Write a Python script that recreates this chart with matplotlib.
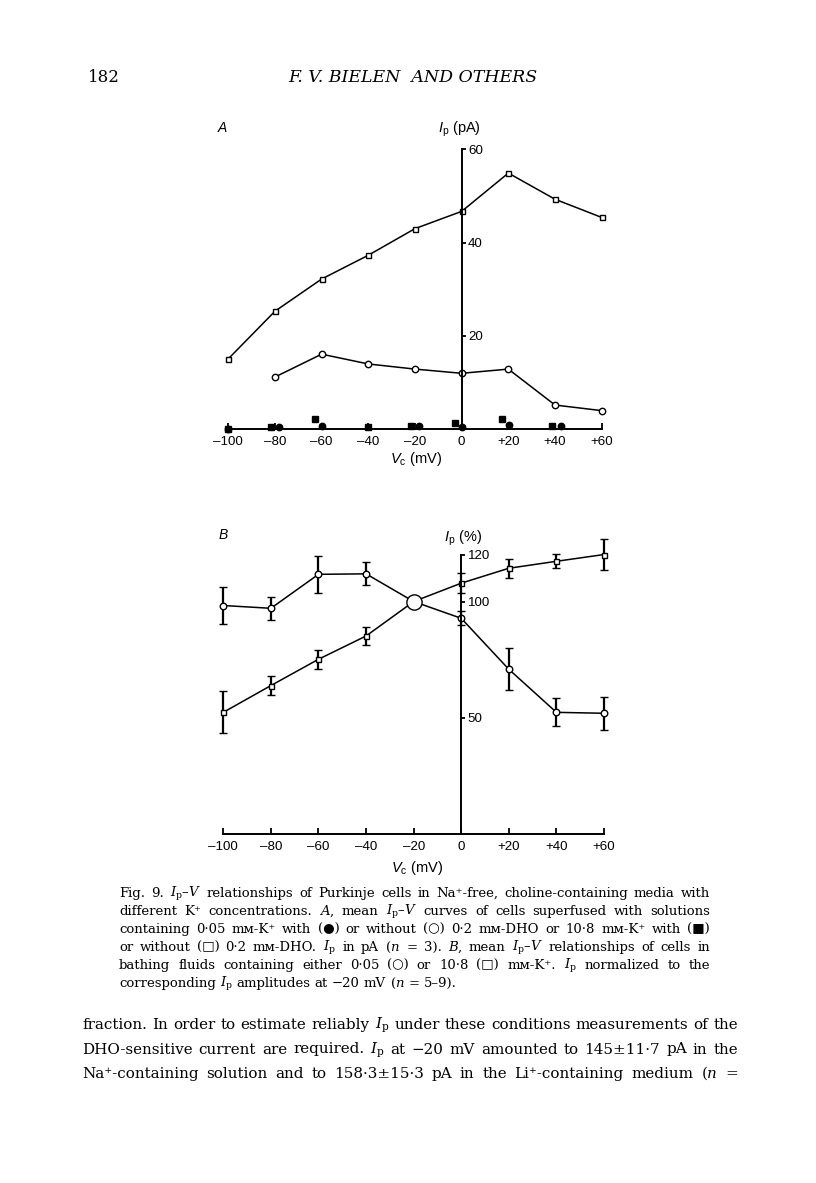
import matplotlib.pyplot as plt

plt.rcParams['font.family'] = ['Liberation Sans', 'DejaVu Sans']
plt.rcParams['mathtext.fontset'] = 'custom'
plt.rcParams['mathtext.rm'] = 'Liberation Sans'
plt.rcParams['mathtext.it'] = 'Liberation Sans:italic'

W, H = 816, 1183

volt = [-100, -80, -60, -40, -20, 0, 20, 40, 60]
volt_labels = ['\u2013100', '\u201380', '\u201360', '\u201340', '\u201320', '0', '+20', '+40', '+60']

# panel A: I_p (pA)
a_sq_open = [15.1, 25.3, 32.2, 37.3, 43.0, 46.7, 54.9, 49.3, 45.4]      # 10.8 mM-K+, no DHO
a_circ_open_v = [-80, -60, -40, -20, 0, 20, 40, 60]
a_circ_open = [11.2, 16.1, 14.0, 12.9, 12.0, 12.9, 5.2, 4.0]            # 0.05 mM-K+, no DHO
# filled symbols are drawn a little apart along V in the original
a_sq_fill_v = [-100, -81.5, -63, -40, -21.6, -2.8, 17.3, 38.9]
a_sq_fill = [0.1, 0.55, 2.2, 0.4, 0.8, 1.3, 2.1, 0.75]                 # 10.8 mM-K+, DHO
a_circ_fill_v = [-100, -78.2, -59.8, -18.1, 0, 20.4, 42.5]
a_circ_fill = [0.1, 0.55, 0.8, 0.75, 0.4, 0.9, 0.8]                    # 0.05 mM-K+, DHO

# panel B: I_p (%) normalised to -20 mV
b_circ = [98.3, 97.1, 111.7, 111.9, 100, 92.8, 70.9, 52.4, 52.0]
b_circ_err = [8, 5, 8, 5, 0, 3, 9, 6, 7]
b_sq = [52.4, 63.9, 75.2, 85.2, 100, 107.9, 114.3, 117.3, 120.2]
b_sq_err = [9, 4, 4, 4, 0, 4.3, 4, 3, 6.5]

fig = plt.figure(figsize=(W / 100, H / 100), dpi=100)


def fx(x):
    return x / W


def fy(y):
    return 1 - y / H


def style_axes(ax, ymax, yticks):
    ax.patch.set_visible(False)
    for s in ['left', 'top']:
        ax.spines[s].set_visible(False)
    ax.spines['right'].set_position(('data', 0))
    ax.spines['right'].set_bounds(0, ymax)
    ax.spines['bottom'].set_position(('data', 0))
    for s in ['right', 'bottom']:
        ax.spines[s].set_linewidth(1.4)
    ax.yaxis.tick_right()
    ax.set_xlim(-100, 60)
    ax.set_ylim(0, ymax)
    ax.set_xticks(volt)
    ax.set_xticklabels(volt_labels)
    ax.set_yticks(yticks)
    ax.tick_params(axis='x', direction='in', length=4, width=1.3, pad=4.5, labelsize=9.6)
    ax.tick_params(axis='y', direction='out', length=3, width=1.3, pad=1.5, labelsize=9.6)


def no_clip(artists):
    for a in artists:
        if isinstance(a, (list, tuple)):
            no_clip(a)
        else:
            a.set_clip_on(False)


# ---- panel A
axA = fig.add_axes([fx(228.3), fy(429.3), 373.4 / W, 280 / H])
style_axes(axA, 60, [20, 40, 60])
no_clip(axA.plot(volt, a_sq_open, '-s', color='k', lw=1.1, ms=3.6, mfc='white', mew=1))
no_clip(axA.plot(a_circ_open_v, a_circ_open, '-o', color='k', lw=1.1, ms=4.6, mfc='white', mew=1))
no_clip(axA.plot(a_sq_fill_v, a_sq_fill, 's', color='k', ms=4.3, zorder=4))
no_clip(axA.plot(a_circ_fill_v, a_circ_fill, 'o', color='k', ms=4.6, zorder=4))

fig.text(fx(218), fy(128), 'A', fontsize=10, style='italic', va='center')
fig.text(fx(459), fy(129), r'$I_\mathrm{p}$ (pA)', fontsize=10.5, ha='center', va='center')
fig.text(fx(416), fy(459), r'$V_\mathrm{c}$ (mV)', fontsize=10.5, ha='center', va='center')

# ---- panel B
axB = fig.add_axes([fx(223.3), fy(834.3), 380.7 / W, 279.3 / H])
style_axes(axB, 120, [50, 100, 120])
eb = axB.errorbar(volt, b_circ, yerr=b_circ_err, fmt='-o', color='k', lw=1.1, ms=4.7, mfc='white',
                  mew=1, elinewidth=1.6, capsize=2.6, capthick=1.6)
no_clip(eb.get_children())
eb = axB.errorbar(volt, b_sq, yerr=b_sq_err, fmt='-s', color='k', lw=1.1, ms=3.6, mfc='white',
                  mew=1, elinewidth=1.6, capsize=2.6, capthick=1.6)
no_clip(eb.get_children())
axB.plot(volt[4], b_circ[4], 'o', color='k', ms=11, mfc='white', mew=1, zorder=5)

fig.text(fx(219), fy(535), 'B', fontsize=10, style='italic', va='center')
fig.text(fx(463), fy(538), r'$I_\mathrm{p}$ (%)', fontsize=10.5, ha='center', va='center')
fig.text(fx(417), fy(868), r'$V_\mathrm{c}$ (mV)', fontsize=10.5, ha='center', va='center')

# ---- page text
serif = dict(family=['DejaVu Serif', 'DejaVu Sans'], math_fontfamily='dejavuserif')
fig.text(fx(88), fy(82), '182', fontsize=12, va='baseline', **serif)
fig.text(fx(413), fy(82), 'F. V. BIELEN  AND OTHERS', fontsize=12.5, style='italic',
         ha='center', va='baseline', **serif)

renderer = fig.canvas.get_renderer()


def justify(line, x0, x1, y, size, last=False):
    words = line.split(' ')
    texts = [fig.text(0, fy(y), w, fontsize=size, va='baseline', **serif) for w in words]
    widths = [t.get_window_extent(renderer).width for t in texts]
    gap = size * 100 / 72 * 0.3
    if not last:
        gap = (x1 - x0 - sum(widths)) / (len(words) - 1)
    x = x0
    for t, w in zip(texts, widths):
        t.set_x(fx(x))
        x += w + gap


Ip = r'$I_\mathrm{p}$'
IpV = r'$I_\mathrm{p}$–$V$'
caption = [
    f'Fig. 9. {IpV} relationships of Purkinje cells in Na⁺-free, choline-containing media with',
    f'different K⁺ concentrations. $A$, mean {IpV} curves of cells superfused with solutions',
    'containing 0·05 mᴍ-K⁺ with (●) or without (○) 0·2 mᴍ-DHO or 10·8 mᴍ-K⁺ with (■)',
    f'or without (□) 0·2 mᴍ-DHO. {Ip} in pA ($n$ = 3). $B$, mean {IpV} relationships of cells in',
    f'bathing fluids containing either 0·05 (○) or 10·8 (□) mᴍ-K⁺. {Ip} normalized to the',
    f'corresponding {Ip} amplitudes at −20 mV ($n$ = 5–9).',
]
for i, line in enumerate(caption):
    justify(line, 119, 710, 897 + 18 * i, 9.5, last=(i == len(caption) - 1))

body = [
    f'fraction. In order to estimate reliably {Ip} under these conditions measurements of the',
    f'DHO-sensitive current are required. {Ip} at −20 mV amounted to 145±11·7 pA in the',
    'Na⁺-containing solution and to 158·3±15·3 pA in the Li⁺-containing medium ($n$ =',
]
for i, line in enumerate(body):
    justify(line, 82, 738, 1029 + 24.5 * i, 10.9)

fig.savefig('out.png', dpi=100)
